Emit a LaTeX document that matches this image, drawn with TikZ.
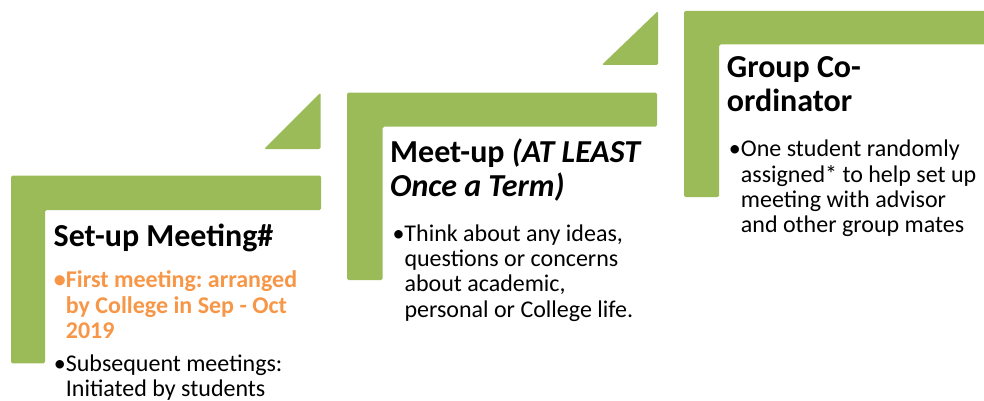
\documentclass[tikz,border=0pt]{standalone}
\usepackage{fontspec}
\setmainfont{Carlito}
\frenchspacing
\definecolor{stepgreen}{HTML}{9BBB59}
\definecolor{steporange}{HTML}{F79646}
\newcommand{\bul}{\makebox[12pt][l]{•}}
\newcommand{\ind}{\hspace*{12pt}}
\begin{document}
\begin{tikzpicture}[x=1pt,y=-1pt,
  barshape/.style={fill=stepgreen,draw=none,rounded corners=1.5pt},
  headtext/.style={anchor=base west,inner sep=0pt,align=left,font=\fontsize{32}{34}\selectfont\bfseries},
  bodytext/.style={anchor=base west,inner sep=0pt,align=left,font=\fontsize{24}{25.3}\selectfont}]
\useasboundingbox (0,0) rectangle (984,401);
% shape 1
\path[barshape] (11,175.5) -- (321,175.5) -- (321,210) -- (45,210) -- (45,363.3) -- (11,363.3) -- cycle;
\path[barshape] (320.5,92.7) -- (320.5,149) -- (264,149) -- cycle;
% shape 2
\path[barshape] (347,92.7) -- (657,92.7) -- (657,126.7) -- (382.7,126.7) -- (382.7,280) -- (347,280) -- cycle;
\path[barshape] (658,11) -- (658,65) -- (601.7,65) -- cycle;
% shape 3
\path[barshape] (684,11) -- (990,11) -- (990,44.5) -- (719,44.5) -- (719,197) -- (684,197) -- cycle;
% texts (base anchor = baseline of last line)
\node[headtext] (h1) at (53.5,246) {Set-up Meeting\#};
\node[bodytext,text=steporange,font=\fontsize{24}{25.3}\selectfont\bfseries] (b1a) at (53.7,338.5) {\bul First meeting: arranged\\\ind by College in Sep - Oct\\\ind 2019};
\node[bodytext] (b1b) at (53.7,396.5) {\bul Subsequent meetings:\\\ind Initiated by students};
\node[headtext] (h2) at (390,196.7) {Meet-up \textit{(AT LEAST}\\\textit{Once a Term)}};
\node[bodytext] (b2) at (392.3,317.2) {\bul Think about any ideas,\\\ind questions or concerns\\\ind about academic,\\\ind personal or College life.};
\node[headtext] (h3) at (726.7,111.7) {Group Co-\\ordinator};
\node[bodytext] (b3) at (728.7,232.7) {\bul One student randomly\\\ind assigned* to help set up\\\ind meeting with advisor\\\ind and other group mates};
\end{tikzpicture}
\end{document}
